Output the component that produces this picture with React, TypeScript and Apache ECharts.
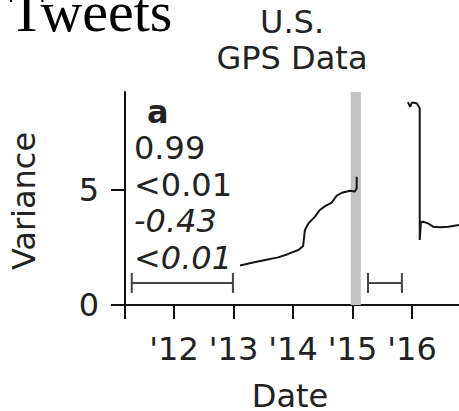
import React, { useEffect, useRef } from "react";
import * as echarts from "echarts";

// Variance of the GPS series over time (decimal years)
const leftYears = [2013.11, 2013.31, 2013.53, 2013.75, 2013.92, 2014.09, 2014.17, 2014.2, 2014.26, 2014.37, 2014.45, 2014.54, 2014.65, 2014.73, 2014.82, 2014.96, 2015.04, 2015.07, 2015.07];
const leftVariance = [1.72, 1.84, 1.96, 2.07, 2.22, 2.39, 2.57, 3.26, 3.55, 3.84, 4.13, 4.3, 4.45, 4.74, 4.88, 4.97, 4.93, 5.07, 5.58];
const rightYears = [2015.93, 2015.97, 2016.0, 2016.08, 2016.13, 2016.13, 2016.15, 2016.19, 2016.27, 2016.36, 2016.47, 2016.61, 2016.79];
const rightVariance = [8.82, 8.62, 8.8, 8.77, 8.55, 2.83, 3.61, 3.62, 3.55, 3.4, 3.38, 3.4, 3.48];

// Highlighted period and the two comparison windows
const bandStart = 2014.97;
const bandEnd = 2015.14;
const windowStarts = [2011.29, 2015.26];
const windowEnds = [2012.99, 2015.83];
const windowLevel = 0.96;

// Axes
const xMin = 2011.176;
const xMax = 2016.79;
const yMin = 0;
const yMax = 9.26;
const xTickYears = [2012, 2013, 2014, 2015, 2016];
const yTickValues = [0, 5];

// Texts
const panelLetter = "a";
const statLines = ["0.99", "<0.01", "-0.43", "<0.01"];
const statItalic = [false, false, true, true];
const titleLines = ["U.S.", "GPS Data"];

const SANS = "DejaVu Sans";
const INK = "#222";
const FS = 32;

export default function App() {
  const ref = useRef<HTMLDivElement>(null);

  useEffect(() => {
    if (!ref.current) return;
    const chart = echarts.init(ref.current, null, { renderer: "svg" });

    const zip = (xs: number[], ys: number[]) => xs.map((x, i) => [x, ys[i]]);

    const statTexts = statLines.map((t, i) => ({
      type: "text",
      x: 134,
      y: 148 + i * 36.5,
      style: {
        text: t,
        fontFamily: SANS,
        fontSize: FS,
        fontStyle: statItalic[i] ? "italic" : "normal",
        fill: INK,
        align: "left",
        verticalAlign: "middle",
      },
    }));

    chart.setOption({
      animation: false,
      grid: { left: 125, top: 92, right: 0, bottom: 106 },
      xAxis: {
        type: "value",
        min: xMin,
        max: xMax,
        splitLine: { show: false },
        axisLine: { show: true, lineStyle: { color: "#111", width: 2 } },
        axisTick: {
          show: true,
          length: 14,
          lineStyle: { color: "#111", width: 2 },
          customValues: [xMin, ...xTickYears],
        },
        axisLabel: {
          customValues: xTickYears,
          formatter: (v: number) => "'" + String(Math.round(v)).slice(2),
          fontFamily: SANS,
          fontSize: FS,
          color: INK,
          margin: 28,
        },
      },
      yAxis: {
        type: "value",
        min: yMin,
        max: yMax,
        splitLine: { show: false },
        axisLine: { show: true, lineStyle: { color: "#111", width: 2 } },
        axisTick: {
          show: true,
          length: 14,
          lineStyle: { color: "#111", width: 2 },
          customValues: yTickValues,
        },
        axisLabel: {
          customValues: yTickValues,
          fontFamily: SANS,
          fontSize: FS,
          color: INK,
          margin: 26,
        },
      },
      series: [
        {
          type: "line",
          data: [],
          z: 1,
          markArea: {
            silent: true,
            itemStyle: { color: "#c2c2c2", opacity: 1 },
            data: [[{ xAxis: bandStart }, { xAxis: bandEnd }]],
          },
        },
        {
          type: "custom",
          z: 2,
          data: windowStarts.map((s, i) => [s, windowEnds[i], windowLevel]),
          renderItem: (params: any, api: any) => {
            const a = api.coord([api.value(0), api.value(2)]);
            const b = api.coord([api.value(1), api.value(2)]);
            const cap = 10;
            const style = { stroke: "#444", lineWidth: 2 };
            return {
              type: "group",
              children: [
                { type: "line", shape: { x1: a[0], y1: a[1], x2: b[0], y2: b[1] }, style },
                { type: "line", shape: { x1: a[0], y1: a[1] - cap, x2: a[0], y2: a[1] + cap }, style },
                { type: "line", shape: { x1: b[0], y1: b[1] - cap, x2: b[0], y2: b[1] + cap }, style },
              ],
            };
          },
        },
        {
          type: "line",
          z: 3,
          data: zip(leftYears, leftVariance),
          showSymbol: false,
          symbol: "none",
          lineStyle: { color: "#151515", width: 2 },
        },
        {
          type: "line",
          z: 3,
          data: zip(rightYears, rightVariance),
          showSymbol: false,
          symbol: "none",
          lineStyle: { color: "#151515", width: 2 },
        },
      ],
      graphic: [
        {
          type: "text",
          x: 9,
          y: 11,
          style: {
            text: "Tweets",
            fontFamily: "Liberation Serif",
            fontSize: 58,
            fill: "#000",
            align: "left",
            verticalAlign: "middle",
          },
        },
        ...titleLines.map((t, i) => ({
          type: "text",
          x: 292,
          y: 22 + i * 36,
          style: {
            text: t,
            fontFamily: SANS,
            fontSize: FS,
            fill: INK,
            align: "center",
            verticalAlign: "middle",
          },
        })),
        {
          type: "text",
          x: 24,
          y: 201,
          rotation: Math.PI / 2,
          style: {
            text: "Variance",
            fontFamily: SANS,
            fontSize: FS,
            fill: INK,
            align: "center",
            verticalAlign: "middle",
          },
        },
        {
          type: "text",
          x: 290,
          y: 396,
          style: {
            text: "Date",
            fontFamily: SANS,
            fontSize: FS,
            fill: INK,
            align: "center",
            verticalAlign: "middle",
          },
        },
        {
          type: "text",
          x: 147,
          y: 112,
          style: {
            text: panelLetter,
            fontFamily: SANS,
            fontSize: FS,
            fontWeight: "bold",
            fill: INK,
            align: "left",
            verticalAlign: "middle",
          },
        },
        ...statTexts,
      ],
    });

    return () => chart.dispose();
  }, []);

  return (
    <div
      ref={ref}
      style={{ position: "absolute", left: 0, top: 0, width: 459, height: 411, background: "#fff" }}
    />
  );
}
